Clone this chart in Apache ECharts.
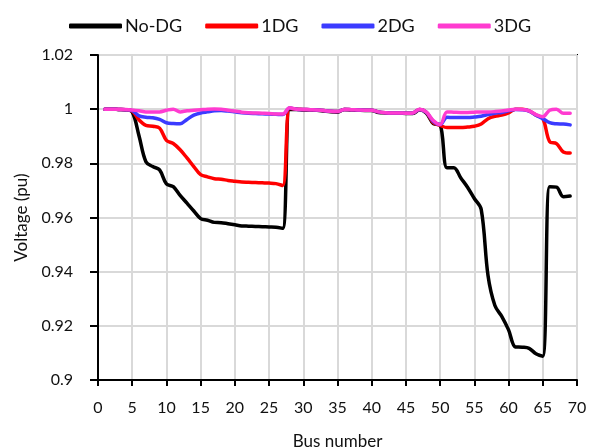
<!DOCTYPE html>
<html>
<head>
<meta charset="utf-8">
<script src="https://cdn.jsdelivr.net/npm/echarts@6/dist/echarts.min.js"></script>
<style>
  html, body { margin: 0; padding: 0; background: #fff; }
  #main { width: 589px; height: 448px; }
</style>
</head>
<body>
<div id="main"></div>
<script>
// bus numbers 1..69
var buses = [];
for (var b = 1; b <= 69; b++) buses.push(b);

var seriesNames = ['No-DG', '1DG', '2DG', '3DG'];

var noDG = [1.0000, 1.0000, 0.9999, 0.9998, 0.9990, 0.9901, 0.9806, 0.9788, 0.9776, 0.9724,
  0.9714, 0.9682, 0.9653, 0.9624, 0.9596, 0.9590, 0.9582, 0.9581, 0.9577, 0.9573,
  0.9569, 0.9568, 0.9567, 0.9566, 0.9565, 0.9564, 0.9560, 0.9999, 0.9999, 0.9997,
  0.9997, 0.9996, 0.9993, 0.9990, 0.9989, 0.9999, 0.9997, 0.9996, 0.9995, 0.9995,
  0.9988, 0.9986, 0.9985, 0.9985, 0.9984, 0.9984, 0.9998, 0.9985, 0.9947, 0.9942,
  0.9784, 0.9784, 0.9747, 0.9712, 0.9670, 0.9630, 0.9385, 0.9275, 0.9235, 0.9185,
  0.9122, 0.9121, 0.9117, 0.9097, 0.9088, 0.9714, 0.9712, 0.9677, 0.9679];

var oneDG = [1.0000, 1.0000, 0.9999, 0.9998, 0.9993, 0.9960, 0.9940, 0.9937, 0.9930, 0.9885,
  0.9873, 0.9850, 0.9820, 0.9788, 0.9758, 0.9750, 0.9743, 0.9741, 0.9737, 0.9734,
  0.9731, 0.9730, 0.9729, 0.9728, 0.9727, 0.9725, 0.9718, 1.0003, 1.0000, 0.9999,
  0.9998, 0.9997, 0.9995, 0.9992, 0.9991, 0.9999, 0.9998, 0.9997, 0.9996, 0.9996,
  0.9990, 0.9987, 0.9986, 0.9986, 0.9985, 0.9986, 0.9999, 0.9988, 0.9950, 0.9940,
  0.9932, 0.9932, 0.9932, 0.9934, 0.9937, 0.9945, 0.9965, 0.9974, 0.9978, 0.9986,
  1.0000, 1.0000, 0.9994, 0.9978, 0.9966, 0.9880, 0.9873, 0.9842, 0.9838];

var twoDG = [1.0000, 1.0000, 0.9999, 0.9998, 0.9995, 0.9975, 0.9970, 0.9968, 0.9962, 0.9950,
  0.9947, 0.9946, 0.9962, 0.9978, 0.9986, 0.9990, 0.9994, 0.9995, 0.9993, 0.9990,
  0.9987, 0.9985, 0.9984, 0.9983, 0.9982, 0.9981, 0.9980, 1.0004, 1.0000, 0.9999,
  0.9998, 0.9997, 0.9995, 0.9992, 0.9991, 0.9999, 0.9998, 0.9997, 0.9996, 0.9996,
  0.9990, 0.9987, 0.9986, 0.9986, 0.9985, 0.9986, 0.9999, 0.9988, 0.9955, 0.9943,
  0.9970, 0.9969, 0.9969, 0.9969, 0.9971, 0.9974, 0.9980, 0.9985, 0.9988, 0.9994,
  0.9999, 0.9998, 0.9993, 0.9978, 0.9965, 0.9950, 0.9946, 0.9945, 0.9942];

var threeDG = [1.0000, 1.0000, 1.0000, 0.9999, 0.9997, 0.9994, 0.9990, 0.9990, 0.9990, 0.9996,
  1.0000, 0.9990, 0.9994, 0.9996, 0.9998, 1.0000, 1.0001, 1.0000, 0.9996, 0.9993,
  0.9989, 0.9987, 0.9986, 0.9985, 0.9984, 0.9982, 0.9982, 1.0005, 1.0000, 0.9999,
  0.9998, 0.9997, 0.9995, 0.9992, 0.9991, 0.9999, 0.9998, 0.9997, 0.9996, 0.9996,
  0.9990, 0.9987, 0.9986, 0.9986, 0.9985, 0.9986, 1.0000, 0.9989, 0.9958, 0.9943,
  0.9990, 0.9989, 0.9988, 0.9988, 0.9989, 0.9990, 0.9990, 0.9991, 0.9993, 0.9997,
  1.0000, 0.9999, 0.9994, 0.9980, 0.9972, 0.9996, 1.0000, 0.9985, 0.9985];

var lineColors = ['#000000', '#ff0000', '#3b3bff', '#ff3bd0'];

var xTicks = { min: 0, max: 70, interval: 5 };
var yTicks = { min: 0.9, max: 1.02, interval: 0.02 };

function pairs(vals) {
  return vals.map(function (v, i) { return [buses[i], v]; });
}

var chart = echarts.init(document.getElementById('main'), null, { renderer: 'canvas' });

var font = 'Lato, "Open Sans", sans-serif';
var allVals = [noDG, oneDG, twoDG, threeDG];

var option = {
  animation: false,
  legend: {
    top: 12,
    left: 64,
    itemWidth: 53,
    itemHeight: 5,
    itemGap: 23,
    icon: 'roundRect',
    textStyle: { fontFamily: font, fontSize: 18, color: '#111', padding: [0, 0, 0, -2] },
    data: seriesNames
  },
  grid: {
    left: 98, right: 12, top: 55, bottom: 68,
    outerBoundsMode: 'none',
    show: true, borderColor: '#000', borderWidth: 2
  },
  xAxis: {
    type: 'value',
    min: xTicks.min, max: xTicks.max, interval: xTicks.interval,
    name: 'Bus number',
    nameLocation: 'middle',
    nameGap: 53,
    nameTextStyle: { fontFamily: font, fontSize: 17, color: '#111' },
    axisLine: { lineStyle: { color: '#000', width: 2 } },
    axisTick: { show: true, length: 6, lineStyle: { color: '#000', width: 2 } },
    axisLabel: { fontFamily: font, fontSize: 16, color: '#111', margin: 20 },
    splitLine: { show: true, lineStyle: { color: '#d9d9d9', width: 2 } }
  },
  yAxis: {
    type: 'value',
    min: yTicks.min, max: yTicks.max, interval: yTicks.interval,
    name: 'Voltage (pu)',
    nameLocation: 'middle',
    nameGap: 66,
    nameTextStyle: { fontFamily: font, fontSize: 17, color: '#111' },
    axisLine: { show: true, lineStyle: { color: '#000', width: 2 } },
    axisTick: { show: true, length: 8, lineStyle: { color: '#000', width: 2 } },
    axisLabel: {
      fontFamily: font, fontSize: 16, color: '#111', margin: 25,
      formatter: function (v) { return String(parseFloat(v.toFixed(2))); }
    },
    splitLine: { show: true, lineStyle: { color: '#d9d9d9', width: 2 } }
  },
  series: seriesNames.map(function (name, k) {
    return {
      name: name,
      type: 'line',
      data: pairs(allVals[k]),
      smooth: 0.35,
      symbol: 'none',
      color: lineColors[k],
      lineStyle: { width: 3.5, color: lineColors[k], cap: 'round', join: 'round' }
    };
  })
};

chart.setOption(option);
</script>
</body>
</html>
